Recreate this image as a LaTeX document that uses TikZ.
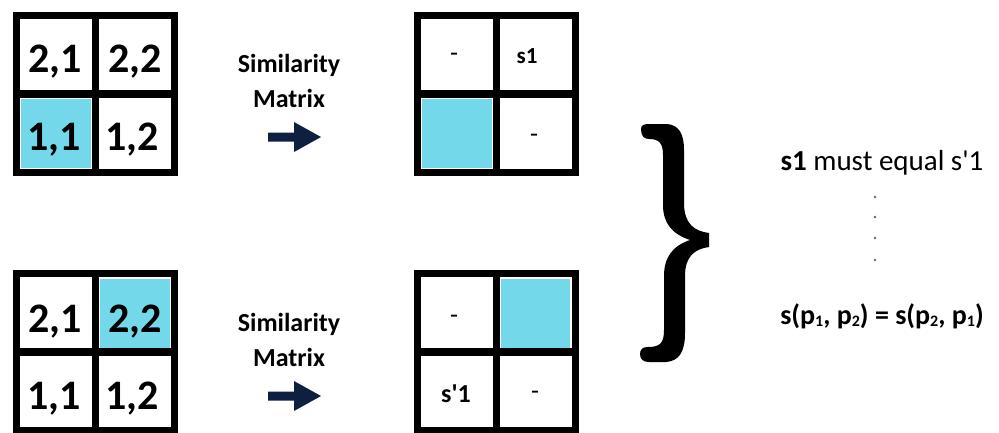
\documentclass[tikz,border=0pt]{standalone}
\usepackage{fontspec}
\setmainfont{Carlito}
\definecolor{cellcyan}{HTML}{72D8EA}
\definecolor{navy}{HTML}{0F1F3F}
\newcommand\subd[1]{\raisebox{-0.1em}{\fontsize{16}{16}\selectfont #1}}
\begin{document}
\begin{tikzpicture}[x=1pt,y=-1pt,
  cellbox/.style={draw=black,line width=7pt,minimum width=79pt,minimum height=79pt,inner sep=0pt,outer sep=0pt},
  hl/.style={fill=cellcyan,draw=white,line width=1pt},
  big/.style={anchor=base,font=\fontsize{42}{42}\selectfont\bfseries,inner sep=0pt},
  small/.style={anchor=base,font=\fontsize{26}{26}\selectfont,inner sep=0pt},
  smallb/.style={anchor=base,font=\fontsize{23}{23}\selectfont\bfseries,inner sep=0pt},
  label/.style={anchor=base,font=\fontsize{26}{26}\selectfont\bfseries,inner sep=0pt},
  side/.style={anchor=base,font=\fontsize{29}{29}\selectfont,inner sep=0pt},
  blockarrow/.style={fill=navy},
  dot/.style={fill=black!60}
]
\useasboundingbox (0,0) rectangle (999,432);

% cyan highlights
\draw[hl] (20,98) rectangle (91.5,168.5);
\draw[hl] (99.5,278) rectangle (170.5,348.5);
\draw[hl] (421,98) rectangle (492.5,168.5);
\draw[hl] (500.5,278) rectangle (570.5,348.5);

% grid 1 (top-left)
\node[cellbox] (g1a) at (55.75,54.5) {};
\node[cellbox] (g1b) at (135,54.5) {};
\node[cellbox] (g1c) at (55.75,133) {};
\node[cellbox] (g1d) at (135,133) {};
\node[big] (t1a) at (55,72) {2,1};
\node[big] (t1b) at (135,72) {2,2};
\node[big] (t1c) at (54,150) {1,1};
\node[big] (t1d) at (132,150) {1,2};

% grid 2 (bottom-left)
\node[cellbox] (g2a) at (55.75,313) {};
\node[cellbox] (g2b) at (135,313) {};
\node[cellbox] (g2c) at (55.75,391) {};
\node[cellbox] (g2d) at (135,391) {};
\node[big] (t2a) at (55,332) {2,1};
\node[big] (t2b) at (135,332) {2,2};
\node[big] (t2c) at (54,409) {1,1};
\node[big] (t2d) at (132,409) {1,2};

% grid 3 (top-right)
\node[cellbox] (g3a) at (456.75,54.5) {};
\node[cellbox] (g3b) at (535.5,54.5) {};
\node[cellbox] (g3c) at (456.75,133) {};
\node[cellbox] (g3d) at (535.5,133) {};
\node[small] (t3a) at (454,61) {-};
\node[smallb] (t3b) at (527,63) {s1};
\node[small] (t3d) at (534,142) {-};

% grid 4 (bottom-right)
\node[cellbox] (g4a) at (456.75,313) {};
\node[cellbox] (g4b) at (535.5,313) {};
\node[cellbox] (g4c) at (456.75,391) {};
\node[cellbox] (g4d) at (535.5,391) {};
\node[small] (t4a) at (454,323) {-};
\node[smallb,font=\fontsize{26}{26}\selectfont\bfseries] (t4c) at (456,402) {s\textquotesingle 1};
\node[small] (t4d) at (535,399) {-};

% labels and arrows
\node[label] (sim1) at (289,72) {Similarity};
\node[label] (mat1) at (289,107) {Matrix};
\fill[blockarrow] (268,132.5) -- (294,132.5) -- (294,122) -- (321,137) -- (294,152) -- (294,141.5) -- (268,141.5) -- cycle;
\node[label] (sim2) at (289,331) {Similarity};
\node[label] (mat2) at (289,366) {Matrix};
\fill[blockarrow] (268,391.5) -- (294,391.5) -- (294,381) -- (321,396) -- (294,411) -- (294,400.5) -- (268,400.5) -- cycle;

% brace
\fill[black] (641,129) .. controls (641,125) and (644,124) .. (650,124)
  -- (667,124) .. controls (679,125) and (684,134) .. (684,150)
  -- (684,205) .. controls (685,224) and (694,231) .. (709,233)
  -- (709,247) .. controls (694,249) and (685,257) .. (685,276)
  -- (685,333) .. controls (685,352) and (679,361) .. (666,362)
  -- (649,362) .. controls (643,362) and (640,359) .. (640,354)
  .. controls (640,349) and (643,347) .. (648,347)
  .. controls (660,347) and (664,343) .. (664,330)
  -- (664,276) .. controls (664,258) and (672,246) .. (690,240)
  .. controls (672,234) and (663,223) .. (663,205)
  -- (663,155) .. controls (663,143) and (659,139) .. (649,139)
  .. controls (644,139) and (641,136) .. (641,129) -- cycle;

% right texts
\node[side] (eq1) at (882,170) {{\bfseries s1} must equal s\textquotesingle 1};
\fill[dot] (875,197) circle (1.3);
\fill[dot] (875,217) circle (1.3);
\fill[dot] (875,238) circle (1.3);
\fill[dot] (875,260) circle (1.3);
\node[side,font=\fontsize{28}{28}\selectfont\bfseries] (eq2) at (882,324) {s(p\subd{1}, p\subd{2}) = s(p\subd{2}, p\subd{1})};
\end{tikzpicture}
\end{document}
